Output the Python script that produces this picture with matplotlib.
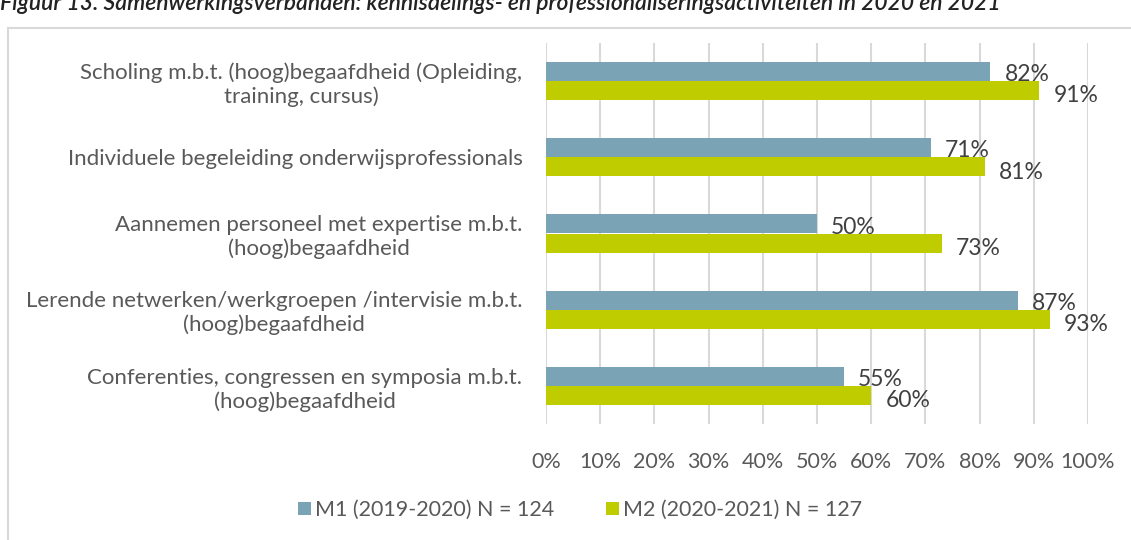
import matplotlib.pyplot as plt
from matplotlib.patches import Rectangle

# data
categories = [
    'Scholing m.b.t. (hoog)begaafdheid (Opleiding,\ntraining, cursus)',
    'Individuele begeleiding onderwijsprofessionals',
    'Aannemen personeel met expertise m.b.t.\n(hoog)begaafdheid',
    'Lerende netwerken/werkgroepen /intervisie m.b.t.\n(hoog)begaafdheid',
    'Conferenties, congressen en symposia m.b.t.\n(hoog)begaafdheid',
]
m1 = [82, 71, 50, 87, 55]
m2 = [91, 81, 73, 93, 60]
series_names = ['M1 (2019-2020) N = 124', 'M2 (2020-2021) N = 127']
ticks = list(range(0, 101, 10))

title = ('Figuur 13. Samenwerkingsverbanden: kennisdelings- en '
         'professionaliseringsactiviteiten in 2020 en 2021')

blue = '#7aa3b6'
green = '#bfcd00'
txt = '#595959'
grid = '#d9d9d9'

plt.rcParams['font.family'] = ['Lato', 'DejaVu Sans']

fig = plt.figure(figsize=(11.31, 5.40), dpi=100)
W, H = 1131, 540

# outer chart frame
fig.patches.append(Rectangle((8 / W, -0.05), 1.2, 1 - 28 / H + 0.05,
                             transform=fig.transFigure, fill=False,
                             edgecolor=grid, lw=1.5))

# title, cut off at top of the image (as in the source)
fig.text(0.0, 1 - 10 / H, title, fontsize=16.5, style='italic',
         fontweight='semibold', color='#222222', va='baseline', ha='left')

ax = fig.add_axes([546 / W, 1 - 424 / H, (1088 - 546) / W, (424 - 43) / H])

y = list(range(len(categories)))
h = 0.25
ax.barh([i - h / 2 for i in y], m1, height=h, color=blue, label=series_names[0])
ax.barh([i + h / 2 for i in y], m2, height=h, color=green, label=series_names[1])

for i in y:
    ax.text(m1[i] + 2.6, i - h / 2 + 0.04, f'{m1[i]}%', va='center', ha='left',
            fontsize=16.5, color='#404040')
    ax.text(m2[i] + 2.6, i + h / 2 + 0.07, f'{m2[i]}%', va='center', ha='left',
            fontsize=16.5, color='#404040')

ax.set_xlim(0, 100)
ax.set_ylim(len(categories) - 0.5, -0.5)
ax.set_xticks(ticks)
ax.set_xticklabels([f'{t}%' for t in ticks])
ax.set_yticks(y)
ax.set_yticklabels(categories, multialignment='center')
ax.tick_params(axis='x', length=0, pad=20, labelsize=15.5, labelcolor=txt)
ax.tick_params(axis='y', length=0, pad=17, labelsize=16, labelcolor=txt)
ax.xaxis.grid(True, color=grid, lw=1.5)
ax.set_axisbelow(True)
for s in ax.spines.values():
    s.set_visible(False)

fig.legend(loc='center', bbox_to_anchor=(580 / W, 1 - 510 / H), ncol=2,
           frameon=False, fontsize=15.5, labelcolor=txt, handlelength=0.6,
           handleheight=0.6, handletextpad=0.2, columnspacing=2.4)

fig.savefig('out.png', dpi=100)
